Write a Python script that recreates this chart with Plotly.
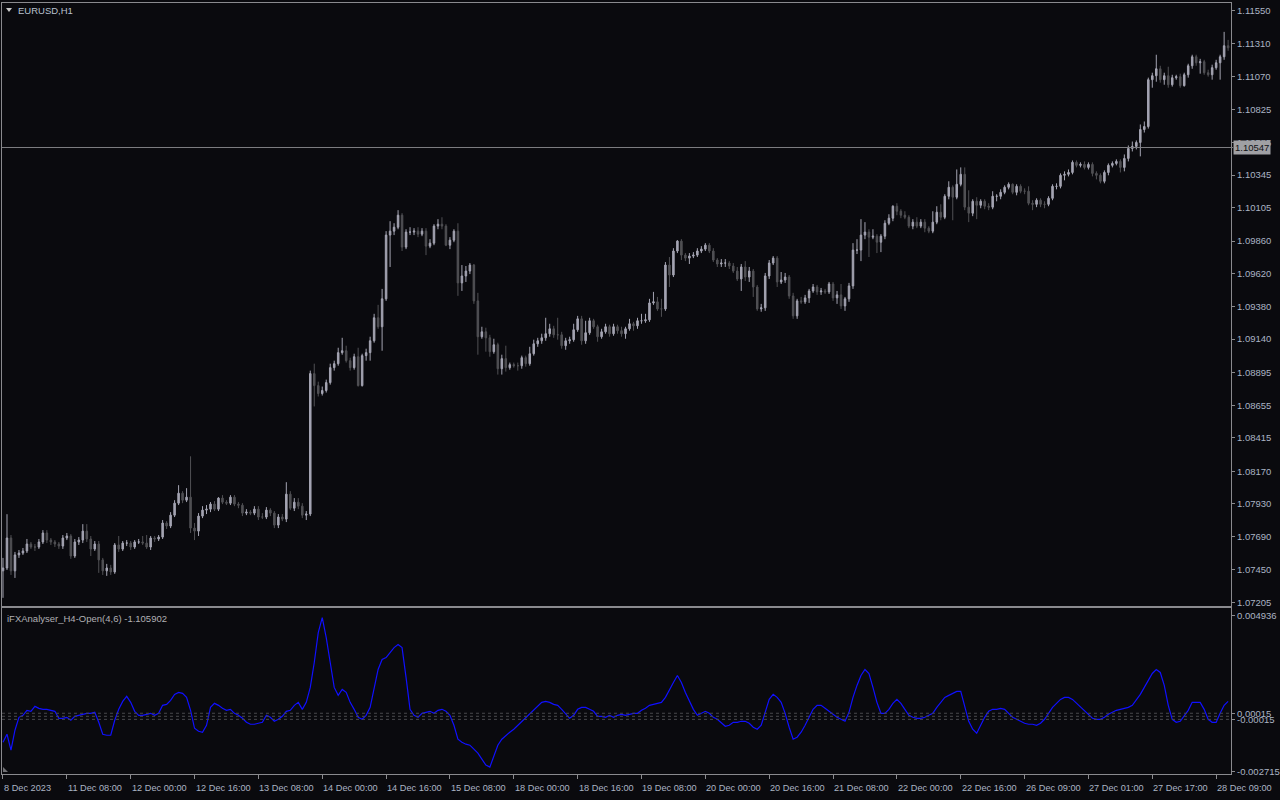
import plotly.graph_objects as go

# ---------------- data ----------------
tick_index = [0, 16, 32, 48, 64, 80, 96, 112, 128, 144, 160, 176, 192, 208, 224, 240, 256, 272, 288, 304]
tick_labels = ["8 Dec 2023", "11 Dec 08:00", "12 Dec 00:00", "12 Dec 16:00", "13 Dec 08:00",
               "14 Dec 00:00", "14 Dec 16:00", "15 Dec 08:00", "18 Dec 00:00", "18 Dec 16:00",
               "19 Dec 08:00", "20 Dec 00:00", "20 Dec 16:00", "21 Dec 08:00", "22 Dec 00:00",
               "22 Dec 16:00", "26 Dec 09:00", "27 Dec 01:00", "27 Dec 17:00", "28 Dec 09:00"]

price_ticks = [1.11550, 1.11310, 1.11070, 1.10825, 1.10585, 1.10345, 1.10105, 1.09860, 1.09620,
               1.09380, 1.09140, 1.08895, 1.08655, 1.08415, 1.08170, 1.07930, 1.07690, 1.07450, 1.07205]
current_price = 1.10547

first_open = 1.07439
closes = [
    1.07460, 1.07680, 1.07439, 1.07556, 1.07570, 1.07585, 1.07636, 1.07614, 1.07614, 1.07651,
    1.07717, 1.07665, 1.07651, 1.07636, 1.07621, 1.07680, 1.07695, 1.07548, 1.07651, 1.07665,
    1.07731, 1.07673, 1.07599, 1.07636, 1.07519, 1.07439, 1.07460, 1.07431, 1.07629, 1.07599,
    1.07643, 1.07643, 1.07614, 1.07651, 1.07651, 1.07643, 1.07614, 1.07680, 1.07673, 1.07687,
    1.07790, 1.07768, 1.07848, 1.07936, 1.08009, 1.07958, 1.07980, 1.07753, 1.07731, 1.07841,
    1.07885, 1.07892, 1.07929, 1.07892, 1.07973, 1.07943, 1.07936, 1.07980, 1.07929, 1.07921,
    1.07863, 1.07870, 1.07863, 1.07892, 1.07834, 1.07834, 1.07885, 1.07863, 1.07775, 1.07834,
    1.07819, 1.08002, 1.07899, 1.07943, 1.07914, 1.07848, 1.07856, 1.08887, 1.08799, 1.08741,
    1.08763, 1.08821, 1.08931, 1.08960, 1.09041, 1.09055, 1.08982, 1.08931, 1.09011, 1.08799,
    1.09019, 1.09041, 1.09128, 1.09297, 1.09231, 1.09436, 1.09904, 1.09933, 1.09962, 1.10050,
    1.09816, 1.09926, 1.09926, 1.09933, 1.09911, 1.09933, 1.09823, 1.09845, 1.09970, 1.09984,
    1.09970, 1.09830, 1.09867, 1.09933, 1.09553, 1.09604, 1.09640, 1.09684, 1.09421, 1.09158,
    1.09194, 1.09150, 1.09048, 1.09099, 1.08923, 1.08997, 1.08931, 1.08953, 1.08945, 1.08945,
    1.09004, 1.08960, 1.09033, 1.09106, 1.09128, 1.09150, 1.09180, 1.09216, 1.09172, 1.09172,
    1.09092, 1.09128, 1.09136, 1.09209, 1.09289, 1.09128, 1.09187, 1.09275, 1.09231, 1.09158,
    1.09194, 1.09231, 1.09180, 1.09231, 1.09202, 1.09180, 1.09216, 1.09253, 1.09238, 1.09275,
    1.09275, 1.09282, 1.09406, 1.09414, 1.09362, 1.09362, 1.09684, 1.09611, 1.09787, 1.09860,
    1.09757, 1.09735, 1.09750, 1.09757, 1.09787, 1.09801, 1.09830, 1.09787, 1.09721, 1.09692,
    1.09699, 1.09699, 1.09677, 1.09640, 1.09582, 1.09670, 1.09596, 1.09640, 1.09523, 1.09362,
    1.09370, 1.09604, 1.09699, 1.09735, 1.09560, 1.09574, 1.09596, 1.09457, 1.09311, 1.09421,
    1.09414, 1.09443, 1.09494, 1.09523, 1.09487, 1.09494, 1.09487, 1.09545, 1.09443, 1.09465,
    1.09384, 1.09436, 1.09531, 1.09794, 1.09794, 1.09904, 1.09926, 1.09889, 1.09896, 1.09852,
    1.09896, 1.09991, 1.10028, 1.10116, 1.10079, 1.10050, 1.10035, 1.09970, 1.09999, 1.09970,
    1.09999, 1.09955, 1.09933, 1.09999, 1.10072, 1.10035, 1.10189, 1.10255, 1.10182, 1.10277,
    1.10350, 1.10109, 1.10065, 1.10152, 1.10123, 1.10152, 1.10116, 1.10109, 1.10189, 1.10189,
    1.10218, 1.10255, 1.10277, 1.10218, 1.10262, 1.10226, 1.10226, 1.10138, 1.10130, 1.10160,
    1.10130, 1.10130, 1.10174, 1.10262, 1.10262, 1.10343, 1.10350, 1.10364, 1.10438, 1.10416,
    1.10423, 1.10401, 1.10423, 1.10357, 1.10343, 1.10299, 1.10364, 1.10416, 1.10430, 1.10445,
    1.10401, 1.10467, 1.10540, 1.10555, 1.10584, 1.10679, 1.10701, 1.11045, 1.11074, 1.11125,
    1.11045, 1.11074, 1.11008, 1.11059, 1.11067, 1.11001, 1.11081, 1.11147, 1.11213, 1.11169,
    1.11177, 1.11096, 1.11081, 1.11133, 1.11169, 1.11213, 1.11294, 1.11279,
]
highs = [
    1.07534, 1.07855, 1.07702, 1.07578, 1.07592, 1.07607, 1.07673, 1.07651, 1.07636, 1.07673,
    1.07738, 1.07738, 1.07680, 1.07665, 1.07651, 1.07702, 1.07717, 1.07709, 1.07673, 1.07687,
    1.07782, 1.07782, 1.07695, 1.07658, 1.07658, 1.07534, 1.07490, 1.07483, 1.07643, 1.07695,
    1.07658, 1.07665, 1.07658, 1.07665, 1.07673, 1.07695, 1.07702, 1.07695, 1.07695, 1.07702,
    1.07812, 1.07804, 1.07870, 1.07958, 1.08068, 1.08024, 1.08046, 1.08280, 1.07790, 1.07863,
    1.07914, 1.07922, 1.07944, 1.07951, 1.07980, 1.07995, 1.07958, 1.07995, 1.07995, 1.07944,
    1.07936, 1.07892, 1.07885, 1.07914, 1.07914, 1.07863, 1.07907, 1.07899, 1.07878, 1.07856,
    1.07856, 1.08090, 1.08024, 1.07973, 1.07973, 1.07936, 1.07878, 1.08909, 1.08960, 1.08828,
    1.08792, 1.08843, 1.08960, 1.08982, 1.09077, 1.09150, 1.09092, 1.09004, 1.09033, 1.09077,
    1.09033, 1.09070, 1.09158, 1.09326, 1.09392, 1.09509, 1.09933, 1.10006, 1.09991, 1.10087,
    1.10065, 1.09947, 1.09962, 1.09955, 1.09962, 1.09955, 1.09955, 1.09874, 1.09984, 1.10021,
    1.10035, 1.09984, 1.09889, 1.09947, 1.09991, 1.09684, 1.09677, 1.09699, 1.09692, 1.09480,
    1.09231, 1.09224, 1.09172, 1.09143, 1.09114, 1.09026, 1.09092, 1.08968, 1.08968, 1.08968,
    1.09019, 1.09019, 1.09084, 1.09136, 1.09150, 1.09180, 1.09297, 1.09253, 1.09238, 1.09297,
    1.09194, 1.09150, 1.09158, 1.09253, 1.09311, 1.09311, 1.09275, 1.09297, 1.09289, 1.09246,
    1.09216, 1.09253, 1.09246, 1.09253, 1.09246, 1.09231, 1.09231, 1.09289, 1.09267, 1.09297,
    1.09326, 1.09326, 1.09436, 1.09487, 1.09450, 1.09436, 1.09706, 1.09743, 1.09808, 1.09867,
    1.09874, 1.09772, 1.09772, 1.09779, 1.09808, 1.09823, 1.09845, 1.09845, 1.09808, 1.09735,
    1.09728, 1.09728, 1.09713, 1.09699, 1.09670, 1.09692, 1.09713, 1.09670, 1.09655, 1.09538,
    1.09399, 1.09626, 1.09721, 1.09750, 1.09750, 1.09633, 1.09626, 1.09611, 1.09480, 1.09436,
    1.09450, 1.09465, 1.09509, 1.09545, 1.09538, 1.09516, 1.09509, 1.09560, 1.09560, 1.09494,
    1.09545, 1.09450, 1.09553, 1.09845, 1.09874, 1.10021, 1.09999, 1.09947, 1.09947, 1.09911,
    1.09911, 1.10013, 1.10057, 1.10123, 1.10138, 1.10094, 1.10079, 1.10050, 1.10021, 1.10035,
    1.10021, 1.10021, 1.09969, 1.10079, 1.10116, 1.10130, 1.10204, 1.10299, 1.10269, 1.10386,
    1.10401, 1.10401, 1.10233, 1.10167, 1.10182, 1.10167, 1.10167, 1.10138, 1.10226, 1.10204,
    1.10240, 1.10269, 1.10291, 1.10284, 1.10277, 1.10277, 1.10247, 1.10262, 1.10160, 1.10174,
    1.10174, 1.10152, 1.10189, 1.10277, 1.10284, 1.10357, 1.10372, 1.10386, 1.10452, 1.10452,
    1.10438, 1.10445, 1.10438, 1.10438, 1.10372, 1.10357, 1.10379, 1.10430, 1.10445, 1.10460,
    1.10460, 1.10496, 1.10562, 1.10591, 1.10599, 1.10716, 1.10738, 1.11060, 1.11096, 1.11228,
    1.11147, 1.11096, 1.11140, 1.11081, 1.11081, 1.11089, 1.11096, 1.11162, 1.11228, 1.11228,
    1.11198, 1.11191, 1.11118, 1.11155, 1.11191, 1.11228, 1.11396, 1.11337,
]
lows = [
    1.07241, 1.07445, 1.07409, 1.07387, 1.07534, 1.07556, 1.07570, 1.07600, 1.07585, 1.07600,
    1.07636, 1.07643, 1.07629, 1.07614, 1.07600, 1.07600, 1.07665, 1.07527, 1.07534, 1.07629,
    1.07643, 1.07651, 1.07548, 1.07585, 1.07424, 1.07409, 1.07402, 1.07409, 1.07417, 1.07578,
    1.07585, 1.07621, 1.07592, 1.07600, 1.07636, 1.07629, 1.07600, 1.07592, 1.07651, 1.07658,
    1.07673, 1.07746, 1.07753, 1.07834, 1.07922, 1.07936, 1.07944, 1.07717, 1.07665, 1.07695,
    1.07826, 1.07856, 1.07870, 1.07878, 1.07878, 1.07929, 1.07922, 1.07922, 1.07914, 1.07899,
    1.07841, 1.07848, 1.07848, 1.07848, 1.07812, 1.07819, 1.07819, 1.07841, 1.07753, 1.07753,
    1.07804, 1.07797, 1.07885, 1.07878, 1.07892, 1.07826, 1.07812, 1.07841, 1.08646, 1.08719,
    1.08726, 1.08748, 1.08806, 1.08909, 1.08945, 1.09026, 1.08968, 1.08909, 1.08916, 1.08792,
    1.08792, 1.08982, 1.08982, 1.09114, 1.09216, 1.09055, 1.09421, 1.09670, 1.09904, 1.09947,
    1.09787, 1.09801, 1.09904, 1.09904, 1.09889, 1.09896, 1.09757, 1.09808, 1.09830, 1.09947,
    1.09947, 1.09823, 1.09801, 1.09852, 1.09458, 1.09494, 1.09560, 1.09618, 1.09399, 1.09026,
    1.09143, 1.09048, 1.09011, 1.09033, 1.08880, 1.08880, 1.08902, 1.08916, 1.08931, 1.08909,
    1.08923, 1.08938, 1.08945, 1.09019, 1.09084, 1.09106, 1.09128, 1.09158, 1.09150, 1.09136,
    1.09070, 1.09062, 1.09106, 1.09121, 1.09194, 1.09099, 1.09106, 1.09172, 1.09216, 1.09121,
    1.09143, 1.09180, 1.09158, 1.09165, 1.09180, 1.09158, 1.09143, 1.09202, 1.09202, 1.09216,
    1.09253, 1.09260, 1.09267, 1.09392, 1.09348, 1.09304, 1.09348, 1.09523, 1.09596, 1.09772,
    1.09721, 1.09713, 1.09692, 1.09735, 1.09743, 1.09772, 1.09787, 1.09772, 1.09706, 1.09670,
    1.09670, 1.09670, 1.09655, 1.09626, 1.09567, 1.09494, 1.09567, 1.09560, 1.09450, 1.09348,
    1.09341, 1.09348, 1.09582, 1.09684, 1.09523, 1.09545, 1.09553, 1.09436, 1.09289, 1.09289,
    1.09399, 1.09399, 1.09406, 1.09480, 1.09465, 1.09465, 1.09472, 1.09472, 1.09421, 1.09399,
    1.09362, 1.09348, 1.09414, 1.09509, 1.09765, 1.09713, 1.09874, 1.09743, 1.09874, 1.09772,
    1.09779, 1.09874, 1.09977, 1.10006, 1.10050, 1.10028, 1.10021, 1.09955, 1.09947, 1.09955,
    1.09955, 1.09925, 1.09918, 1.09918, 1.09984, 1.10013, 1.10021, 1.10167, 1.10013, 1.10167,
    1.10262, 1.10087, 1.09999, 1.10043, 1.10021, 1.10101, 1.10094, 1.10087, 1.10094, 1.10152,
    1.10167, 1.10204, 1.10240, 1.10204, 1.10196, 1.10211, 1.10204, 1.10123, 1.10087, 1.10109,
    1.10109, 1.10101, 1.10116, 1.10160, 1.10240, 1.10247, 1.10306, 1.10335, 1.10350, 1.10401,
    1.10401, 1.10386, 1.10386, 1.10335, 1.10313, 1.10284, 1.10284, 1.10343, 1.10401, 1.10416,
    1.10364, 1.10372, 1.10445, 1.10518, 1.10533, 1.10482, 1.10657, 1.10686, 1.10986, 1.11030,
    1.11023, 1.11008, 1.10986, 1.10994, 1.11045, 1.10986, 1.10994, 1.11060, 1.11125, 1.11147,
    1.11089, 1.11081, 1.11067, 1.11045, 1.11118, 1.11045, 1.11191, 1.11257,
]
indicator = [
    -0.001274, -0.000882, -0.001666, -0.000686, -0.000049, 0.000049, 0.000294, 0.000245, 0.000490, 0.000392,
    0.000343, 0.000343, 0.000294, 0.000245, -0.000098, -0.000098, -0.000049, -0.000196, 0.0, 0.000049,
    0.000098, 0.000147, 0.000147, 0.000196, -0.000294, -0.000882, -0.000931, -0.000931, -0.000196, 0.000343,
    0.000735, 0.000980, 0.000686, 0.000245, 0.000049, 0.000049, 0.000098, 0.000147, 0.000049, 0.000147,
    0.000539, 0.000588, 0.000784, 0.001078, 0.001176, 0.001127, 0.000931, 0.000294, -0.000588, -0.000735,
    -0.000784, -0.000441, 0.000441, 0.000637, 0.000539, 0.000392, 0.000294, 0.000343, 0.000147, 0.000049,
    -0.000098, -0.000294, -0.000392, -0.000392, -0.000343, -0.000294, 0.000049, -0.000049, -0.000245, -0.000147,
    0.0, 0.000245, 0.000294, 0.000539, 0.000686, 0.000343, 0.000686, 0.001421, 0.002646, 0.004116,
    0.004851, 0.003871, 0.002646, 0.001421, 0.001029, 0.001323, 0.001176, 0.000686, 0.000343, -0.000049,
    -0.000147, 0.000049, 0.000441, 0.001323, 0.002303, 0.002793, 0.002891, 0.003136, 0.003381, 0.003528,
    0.003381, 0.001911, 0.000343, 0.000049, -0.000049, 0.000147, 0.000196, 0.000245, 0.000147, 0.000294,
    0.000343, 0.000245, 0.000049, -0.000441, -0.001127, -0.001274, -0.001372, -0.001421, -0.001617, -0.001813,
    -0.002107, -0.002401, -0.002499, -0.001911, -0.001421, -0.001127, -0.000931, -0.000784, -0.000637, -0.000441,
    -0.000245, -0.000049, 0.000147, 0.000343, 0.000539, 0.000686, 0.000735, 0.000686, 0.000588, 0.000539,
    0.000343, 0.000147, -0.000098, 0.000049, 0.000343, 0.000441, 0.000441, 0.000343, 0.000245, 0.0,
    0.0, -0.000049, 0.000049, -0.000049, 0.000049, 0.000098, 0.000049, 0.000098, 0.000147, 0.000147,
    0.000294, 0.000392, 0.000539, 0.000588, 0.000637, 0.000686, 0.000931, 0.001323, 0.001666, 0.002009,
    0.001666, 0.001176, 0.000735, 0.000343, 0.000049, 0.000147, 0.000245, 0.000147, -0.000049, -0.000147,
    -0.000343, -0.000490, -0.000441, -0.000294, -0.000294, -0.000245, -0.000245, -0.000343, -0.000539, -0.000637,
    -0.000441, 0.000196, 0.000833, 0.001078, 0.000931, 0.000686, 0.000147, -0.000539, -0.001127, -0.001029,
    -0.000784, -0.000441, -0.000049, 0.000343, 0.000539, 0.000539, 0.000392, 0.000245, 0.000098, -0.000049,
    -0.000147, -0.000245, 0.000196, 0.000931, 0.001519, 0.002009, 0.002303, 0.002107, 0.001421, 0.000686,
    0.000147, 0.000147, 0.000343, 0.000637, 0.000833, 0.000637, 0.000343, 0.000049, -0.000049, -0.000098,
    -0.000098, -0.000049, 0.000049, 0.000147, 0.000441, 0.000686, 0.000931, 0.001029, 0.001127, 0.001225,
    0.001225, 0.000441, -0.000245, -0.000637, -0.000833, -0.000441, -0.000049, 0.000245, 0.000343, 0.000343,
    0.000392, 0.000343, 0.000147, -0.000049, -0.000147, -0.000245, -0.000343, -0.000392, -0.000392, -0.000441,
    -0.000343, -0.000147, 0.000147, 0.000441, 0.000637, 0.000833, 0.000931, 0.000931, 0.000833, 0.000637,
    0.000441, 0.000245, 0.000049, -0.000098, -0.000147, -0.000147, -0.000049, 0.000098, 0.000196, 0.000294,
    0.000343, 0.000392, 0.000441, 0.000539, 0.000784, 0.001078, 0.001421, 0.001764, 0.002107, 0.002303,
    0.002156, 0.001519, 0.000539, -0.000147, -0.000294, -0.000245, 0.000049, 0.000294, 0.000686, 0.000686,
    0.000686, 0.000343, -0.000147, -0.000294, -0.000294, 0.000147, 0.000539, 0.000735,
]
ind_ticks = [0.004936, 0.00015, -0.00015, -0.002715]
ind_tick_text = ["0.004936", "0.00015", "-0.00015", "-0.002715"]
ind_levels = [0.00015, 0.0, -0.00015]

opens = [first_open] + closes[:-1]
bars = list(range(len(closes)))

# ---------------- style ----------------
W, H = 1280, 800
BG = "#0a0a0e"
FRAME = "#8a8a8e"
TXT = "#aab4c4"
FONT = "Liberation Sans, Arial, sans-serif"
UP = "#a4a4b2"
DN = "#505054"

def px_x(px):
    return px / W

def px_y(py):
    return 1 - py / H

xdom = [px_x(2), px_x(1234)]
xrange_ = [-0.25, 307.75]

fig = go.Figure()
fig.add_trace(go.Candlestick(
    x=bars, open=opens, high=highs, low=lows, close=closes,
    increasing=dict(line=dict(color=UP, width=1), fillcolor=UP),
    decreasing=dict(line=dict(color=DN, width=1), fillcolor=DN),
    whiskerwidth=0, xaxis="x", yaxis="y", showlegend=False, hoverinfo="skip",
))
fig.add_trace(go.Scatter(
    x=bars, y=indicator, mode="lines", line=dict(color="#1010ff", width=1.2),
    xaxis="x2", yaxis="y2", showlegend=False, hoverinfo="skip",
))

shapes = []
shapes.append(dict(type="line", xref="paper", yref="y", x0=px_x(2), x1=px_x(1236),
                   y0=current_price, y1=current_price, line=dict(color="#7c7c80", width=1)))
for lv in ind_levels:
    shapes.append(dict(type="line", xref="paper", yref="y2", x0=xdom[0], x1=xdom[1],
                       y0=lv, y1=lv, line=dict(color="#4a4a4e", width=1, dash="dot")))
shapes.append(dict(type="path", xref="paper", yref="paper",
                   path=f"M {px_x(6)},{px_y(8)} L {px_x(12)},{px_y(8)} L {px_x(9)},{px_y(12)} Z",
                   fillcolor="#c8c8c8", line=dict(width=0)))
shapes.append(dict(type="path", xref="paper", yref="paper",
                   path=f"M {px_x(3)},{px_y(775)} L {px_x(3)},{px_y(770)} L {px_x(8)},{px_y(775)} Z",
                   fillcolor="#707074", line=dict(width=0)))

annotations = [
    dict(text="EURUSD,H1", xref="paper", yref="paper", x=px_x(16), y=px_y(11),
         xanchor="left", yanchor="middle", showarrow=False, font=dict(family=FONT, size=9.5, color="#b8c2d0")),
    dict(text="iFXAnalyser_H4-Open(4,6) -1.105902", xref="paper", yref="paper", x=px_x(5), y=px_y(621),
         xanchor="left", yanchor="middle", showarrow=False, font=dict(family=FONT, size=9.5, color="#b0b0b4")),
    dict(text=f"{current_price:.5f}", xref="paper", yref="y", x=px_x(1236), y=current_price,
         xanchor="left", yanchor="middle", showarrow=False, bgcolor="#a0a0a4", borderpad=1,
         font=dict(family=FONT, size=9.5, color="#101014")),
]
for ti, tl in zip(tick_index, tick_labels):
    annotations.append(dict(text=tl, xref="x2", yref="paper", x=ti, xshift=-1, y=px_y(791),
                            xanchor="left", yanchor="middle", showarrow=False,
                            font=dict(family=FONT, size=9.2, color=TXT)))

axis_common = dict(showgrid=False, zeroline=False, showline=True, linecolor=FRAME, linewidth=1, mirror=True)

fig.update_layout(
    width=W, height=H, margin=dict(l=0, r=0, t=0, b=0),
    paper_bgcolor=BG, plot_bgcolor=BG, boxgap=0.45,
    xaxis=dict(domain=xdom, range=xrange_, anchor="y", showticklabels=False, ticks="",
               rangeslider=dict(visible=False), **axis_common),
    yaxis=dict(domain=[px_y(608), px_y(3)], range=[1.07183, 1.11608], anchor="x", side="right",
               tickvals=price_ticks, tickformat=".5f", ticks="outside", ticklen=3, tickcolor=FRAME,
               tickfont=dict(family=FONT, size=9.5, color=TXT), **axis_common),
    xaxis2=dict(domain=xdom, range=xrange_, anchor="y2", showticklabels=False, ticks="outside",
                tickvals=tick_index, ticklen=4, tickcolor=FRAME, **axis_common),
    yaxis2=dict(domain=[px_y(777), px_y(610)], range=[-0.002842, 0.005341], anchor="x2", side="right",
                tickvals=ind_ticks, ticktext=ind_tick_text, ticks="outside", ticklen=3, tickcolor=FRAME,
                tickfont=dict(family=FONT, size=9.5, color=TXT), **axis_common),
    shapes=shapes, annotations=annotations, hovermode=False,
)

post = ("document.documentElement.style.margin='0';document.documentElement.style.padding='0';"
        "document.documentElement.style.overflow='hidden';document.documentElement.style.background='#0a0a0e';"
        "document.body.style.margin='0';document.body.style.padding='0';document.body.style.overflow='hidden';"
        "document.body.style.height='800px';document.body.style.background='#0a0a0e';"
        "var g=document.querySelector('.plotly-graph-div');if(g){g.style.display='block';"
        "var p=g.parentElement;p.style.height='800px';p.style.overflow='hidden';p.style.lineHeight='0';}")

fig.write_html("out.html", config={"displayModeBar": False}, post_script=post)
